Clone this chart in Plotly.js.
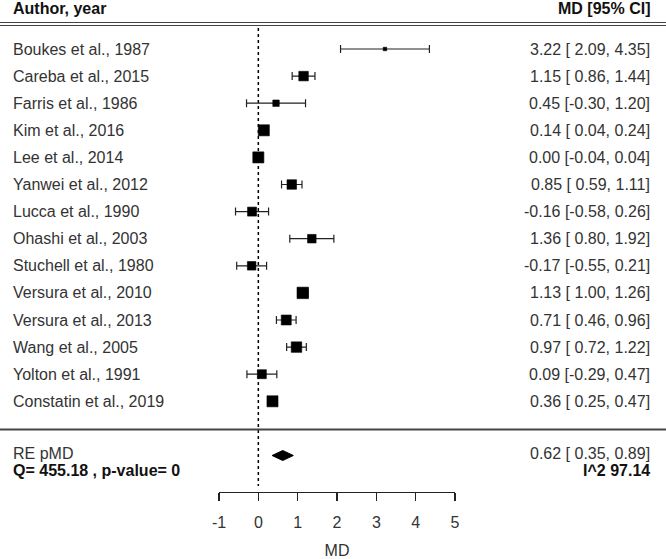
<!DOCTYPE html>
<html>
<head>
<meta charset="utf-8">
<script src="https://cdn.plot.ly/plotly-3.0.1.min.js"></script>
<style>html,body{margin:0;padding:0;background:#fff;}#chart{width:666px;height:559px;}</style>
</head>
<body>
<div id="chart"></div>
<script>
// ---- data ----
const studies = ["Boukes et al., 1987","Careba et al., 2015","Farris et al., 1986","Kim et al., 2016","Lee et al., 2014","Yanwei et al., 2012","Lucca et al., 1990","Ohashi et al., 2003","Stuchell et al., 1980","Versura et al., 2010","Versura et al., 2013","Wang et al., 2005","Yolton et al., 1991","Constatin et al., 2019"];
const md    = [3.22, 1.15, 0.45, 0.14, 0.00, 0.85, -0.16, 1.36, -0.17, 1.13, 0.71, 0.97, 0.09, 0.36];
const lower = [2.09, 0.86, -0.30, 0.04, -0.04, 0.59, -0.58, 0.80, -0.55, 1.00, 0.46, 0.72, -0.29, 0.25];
const upper = [4.35, 1.44, 1.20, 0.24, 0.04, 1.11, 0.26, 1.92, 0.21, 1.26, 0.96, 1.22, 0.47, 0.47];
const weights = [2.5, 6.8, 4.6, 7.9, 7.9, 6.8, 6.4, 6.1, 6.1, 8.2, 7.1, 7.5, 6.4, 7.9];
const pooled = {label: "RE pMD", est: 0.62, lo: 0.35, hi: 0.89};
const hetLeft = "Q= 455.18 , p-value= 0";
const hetRight = "I^2 97.14";
const xTicks = [-1, 0, 1, 2, 3, 4, 5];
const headerLeft = "Author, year";
const headerRight = "MD [95% CI]";
const xTitle = "MD";

// ---- helpers ----
const FONT = "'Liberation Sans', Arial, sans-serif";
const TXT = "#333";
const fmt = v => v.toFixed(2);
const padLo = v => (v >= 0 ? " " : "") + fmt(v);
const ciText = (e, l, h) => `${fmt(e)} [${padLo(l)}, ${fmt(h)}]`;

const rows = studies.map((_, i) => i);
const pooledRow = studies.length + 1;

const pxPerRow = 27.1;
const firstRowPx = 49;
const H = 559, W = 666;
const yRange = [(H - firstRowPx) / pxPerRow, -firstRowPx / pxPerRow];
const rowOfPx = p => (p - firstRowPx) / pxPerRow;

const traces = [];
traces.push({
  type: "scatter", mode: "markers",
  x: md, y: rows,
  opacity: 1,
  marker: {symbol: "square", color: "#000", opacity: 1, size: weights.map(w => w * 1.4), line: {width: 0.6, color: "#000"}},
  error_x: {
    type: "data", symmetric: false,
    array: upper.map((u, i) => u - md[i]),
    arrayminus: lower.map((l, i) => md[i] - l),
    color: "#222", thickness: 1.2, width: 4
  },
  hoverinfo: "skip", showlegend: false
});
const dh = 5 / pxPerRow;
traces.push({
  type: "scatter", mode: "lines",
  x: [pooled.lo, pooled.est, pooled.hi, pooled.est, pooled.lo],
  y: [pooledRow, pooledRow - dh, pooledRow, pooledRow + dh, pooledRow],
  fill: "toself", fillcolor: "#000", line: {color: "#000", width: 1},
  hoverinfo: "skip", showlegend: false
});

const ann = [];
const leftX = 11 / W, rightX = 652 / W;
const addText = (x, y, text, anchor, bold) => ann.push({
  xref: "paper", yref: "y", x: x, y: y, text: bold ? "<b>" + text + "</b>" : text,
  xanchor: anchor, yanchor: "middle", showarrow: false,
  font: {family: FONT, size: 16, color: bold ? "#111" : TXT}
});
studies.forEach((s, i) => {
  addText(leftX, i, s, "left", false);
  addText(rightX, i, ciText(md[i], lower[i], upper[i]), "right", false);
});
addText(leftX, rowOfPx(8.5), headerLeft, "left", true);
addText(rightX, rowOfPx(8.5), headerRight, "right", true);
addText(leftX, rowOfPx(453), pooled.label, "left", false);
addText(rightX, rowOfPx(453), ciText(pooled.est, pooled.lo, pooled.hi), "right", false);
addText(leftX, rowOfPx(470), hetLeft, "left", true);
addText(rightX, rowOfPx(470), hetRight, "right", true);

const shapes = [
  {type: "line", xref: "paper", yref: "y", x0: 0, x1: 1, y0: rowOfPx(22.5), y1: rowOfPx(22.5), line: {color: "#444", width: 1.2}},
  {type: "line", xref: "paper", yref: "y", x0: 0, x1: 1, y0: rowOfPx(25.5), y1: rowOfPx(25.5), line: {color: "#444", width: 1.2}},
  {type: "line", xref: "paper", yref: "y", x0: 0, x1: 1, y0: rowOfPx(429.5), y1: rowOfPx(429.5), line: {color: "#444", width: 2}},
  {type: "line", xref: "x", yref: "y", x0: 0, x1: 0, y0: rowOfPx(28), y1: rowOfPx(486), line: {color: "#000", width: 1.5, dash: "dot"}, layer: "below"}
];

const layout = {
  width: W, height: H,
  margin: {l: 0, r: 0, t: 0, b: 0, pad: 0},
  paper_bgcolor: "#fff", plot_bgcolor: "#fff",
  showlegend: false,
  xaxis: {
    domain: [219 / W, 455 / W], range: [-1, 5],
    anchor: "free", position: 1 - 491.7 / H, side: "bottom",
    tickmode: "array", tickvals: xTicks, ticktext: xTicks.map(String),
    ticks: "outside", ticklen: 8, tickwidth: 1.3, tickcolor: "#222",
    showline: true, linecolor: "#222", linewidth: 1.3,
    showgrid: false, zeroline: false,
    tickfont: {family: FONT, size: 16, color: TXT},
    ticklabelstandoff: 8,
    title: {text: xTitle, font: {family: FONT, size: 16, color: TXT}, standoff: 18}
  },
  yaxis: {range: yRange, visible: false, showgrid: false, zeroline: false, domain: [0, 1]},
  annotations: ann, shapes: shapes
};

Plotly.newPlot("chart", traces, layout, {displayModeBar: false, staticPlot: true});
</script>
</body>
</html>
